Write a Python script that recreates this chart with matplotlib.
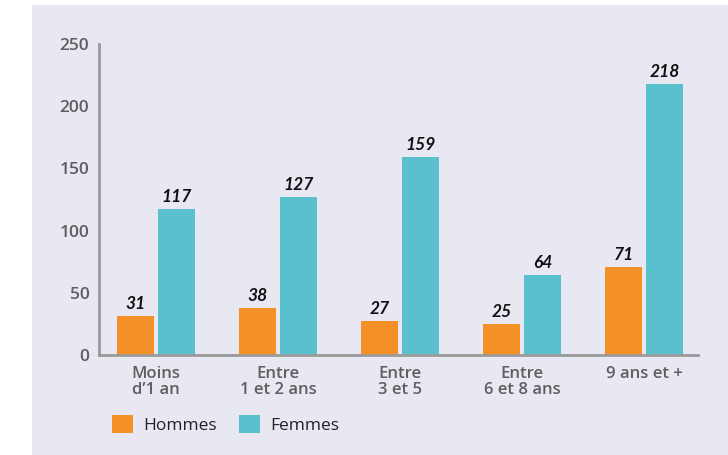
import matplotlib
matplotlib.use('Agg')
import matplotlib.pyplot as plt
from matplotlib.patches import Rectangle
import numpy as np

categories = ['Moins\nd\u20191 an', 'Entre\n1 et 2 ans', 'Entre\n3 et 5', 'Entre\n6 et 8 ans', '9 ans et +']
hommes = [31, 38, 27, 25, 71]
femmes = [117, 127, 159, 64, 218]
series_names = ['Hommes', 'Femmes']
yticks = [0, 50, 100, 150, 200, 250]

orange = '#f39028'
teal = '#5bc0cd'
panel = '#e8e8f2'
grey = '#5e5e5e'

plt.rcParams['font.family'] = ['Open Sans', 'DejaVu Sans']

fig = plt.figure(figsize=(7.28, 4.55), dpi=100)
fig.patches.append(Rectangle((32 / 728, 0), 1, 450 / 455, transform=fig.transFigure,
                             facecolor=panel, edgecolor='none', zorder=-10))

ax = fig.add_axes([99 / 728, 1 - 355 / 455, (698 - 99) / 728, (355 - 44) / 455])
ax.set_facecolor('none')

x = np.arange(len(categories))
w = 0.30
off = 0.168
b1 = ax.bar(x - off, hommes, w, color=orange, label=series_names[0])
b2 = ax.bar(x + off, femmes, w, color=teal, label=series_names[1])

for bars, vals in ((b1, hommes), (b2, femmes)):
    for r, v in zip(bars, vals):
        ax.annotate(str(v), (r.get_x() + r.get_width() / 2, r.get_height()),
                    xytext=(0, 3), textcoords='offset points', ha='center', va='bottom',
                    fontsize=12.5, fontweight='bold', fontstyle='italic', color='#111111',
                    family=['Lato', 'DejaVu Sans'])

ax.set_xlim(-0.467, 4.44)
ax.set_ylim(0, 250)
ax.set_yticks(yticks)
ax.set_yticklabels([str(t) for t in yticks], fontsize=12.5, fontweight='semibold', color=grey)
ax.set_xticks(x)
ax.set_xticklabels(categories, fontsize=12, fontweight='semibold', color=grey, linespacing=0.95)
ax.tick_params(axis='both', length=0)
ax.tick_params(axis='y', pad=7)
ax.tick_params(axis='x', pad=8)

for s in ('top', 'right'):
    ax.spines[s].set_visible(False)
for s in ('left', 'bottom'):
    ax.spines[s].set_color('#9a9a9a')
    ax.spines[s].set_linewidth(2)

leg = ax.legend(loc='upper left', bbox_to_anchor=(0.01, -0.17), ncol=2, frameon=False,
                fontsize=12.5, handlelength=1.2, handleheight=1.2, columnspacing=1.3,
                handletextpad=0.6, borderaxespad=0)
for t in leg.get_texts():
    t.set_color('#222222')

fig.savefig('out.png', dpi=100)
